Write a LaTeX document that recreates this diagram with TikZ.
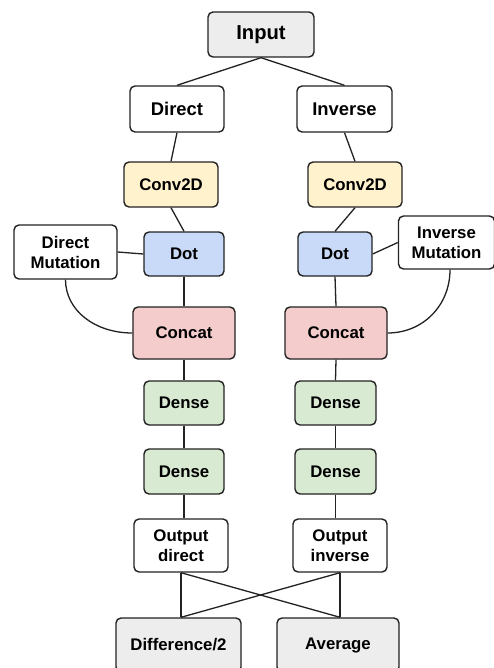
\documentclass[tikz,border=0pt]{standalone}
\usepackage{fontspec}
\setmainfont{Liberation Sans}
\definecolor{edge}{HTML}{222222}
\definecolor{greyfill}{HTML}{EDEDED}
\definecolor{convfill}{HTML}{FFF2CC}
\definecolor{dotfill}{HTML}{C9DAF8}
\definecolor{catfill}{HTML}{F4CCCC}
\definecolor{densefill}{HTML}{D9EAD3}
\begin{document}
\begin{tikzpicture}[x=1pt,y=-1pt,
  box/.style={draw=edge, line width=1.4pt, rounded corners=5pt, fill=white,
    align=center, inner sep=2pt, text=black,
    font=\bfseries\fontsize{16.8}{20}\selectfont},
  link/.style={draw=edge, line width=1.3pt}]
  \useasboundingbox (0,0) rectangle (494,668);
  \fill[white] (0,0) rectangle (494,668);

  % input and the two branches
  \node[box, fill=greyfill, minimum width=106pt, minimum height=45pt,
        font=\bfseries\fontsize{20.2}{24}\selectfont] (in) at (261,34.5) {Input};
  \node[box, minimum width=94pt, minimum height=46pt,
        font=\bfseries\fontsize{18.4}{22}\selectfont] (dir) at (177,109) {Direct};
  \node[box, minimum width=95pt, minimum height=46pt,
        font=\bfseries\fontsize{18.4}{22}\selectfont] (inv) at (344.5,109) {Inverse};

  % convolution layers
  \node[box, fill=convfill, minimum width=94pt, minimum height=45pt] (convL) at (171,184.5) {Conv2D};
  \node[box, fill=convfill, minimum width=94pt, minimum height=45pt] (convR) at (355,184.5) {Conv2D};

  % mutation inputs and dot products
  \node[box, minimum width=103pt, minimum height=54pt] (dmut) at (65.5,252) {Direct\\Mutation};
  \node[box, fill=dotfill, minimum width=80pt, minimum height=44pt] (dotL) at (184,254) {Dot};
  \node[box, fill=dotfill, minimum width=74pt, minimum height=44pt] (dotR) at (335,254) {Dot};
  \node[box, minimum width=96pt, minimum height=53pt] (imut) at (446.5,242.5) {Inverse\\Mutation};

  % concatenation
  \node[box, fill=catfill, minimum width=102pt, minimum height=52pt] (catL) at (184,333) {Concat};
  \node[box, fill=catfill, minimum width=102pt, minimum height=52pt] (catR) at (336,333) {Concat};

  % dense layers
  \node[box, fill=densefill, minimum width=80pt, minimum height=44pt] (d1L) at (184,403) {Dense};
  \node[box, fill=densefill, minimum width=81pt, minimum height=44pt] (d1R) at (335.5,403) {Dense};
  \node[box, fill=densefill, minimum width=80pt, minimum height=45pt] (d2L) at (184,471.5) {Dense};
  \node[box, fill=densefill, minimum width=81pt, minimum height=45pt] (d2R) at (335.5,471.5) {Dense};

  % outputs
  \node[box, minimum width=94pt, minimum height=53pt] (outD) at (181,545.5) {Output\\direct};
  \node[box, minimum width=94pt, minimum height=53pt] (outI) at (340,545.5) {Output\\inverse};

  % combined results
  \node[box, fill=greyfill, minimum width=125pt, minimum height=54pt] (diff) at (178.5,645) {Difference/2};
  \node[box, fill=greyfill, minimum width=122pt, minimum height=54pt] (avg) at (338,645) {Average};

  % connectors
  \draw[link] (in.south) -- (dir.north);
  \draw[link] (in.south) -- (inv.north);
  \draw[link] (dir.south) -- (convL.north);
  \draw[link] (inv.south) -- (convR.north);
  \draw[link] (convL.south) -- (dotL.north);
  \draw[link] (convR.south) -- (dotR.north);
  \draw[link] (dmut.east) -- (dotL.west);
  \draw[link] (imut.west) -- (dotR.east);
  \draw[link] (dmut.south) .. controls +(0,31) and +(-37,0) .. (catL.west);
  \draw[link] ([xshift=3.5pt]imut.south) .. controls +(0,36) and +(35,0) .. (catR.east);
  \draw[link] (dotL.south) -- (catL.north);
  \draw[link] (dotR.south) -- (catR.north);
  \draw[link] (catL.south) -- (d1L.north);
  \draw[link] (catR.south) -- (d1R.north);
  \draw[link] (d1L.south) -- (d2L.north);
  \draw[link] (d1R.south) -- (d2R.north);
  \draw[link] (d2L.south) -- (d2L.south |- outD.north);
  \draw[link] (d2R.south) -- (d2R.south |- outI.north);
  \draw[link] (outD.south) -- (outD.south |- diff.north);
  \draw[link] (outI.south) -- (outI.south |- avg.north);
  \draw[link] (outD.south) -- (outI.south |- avg.north);
  \draw[link] (outI.south) -- (outD.south |- diff.north);
\end{tikzpicture}
\end{document}
